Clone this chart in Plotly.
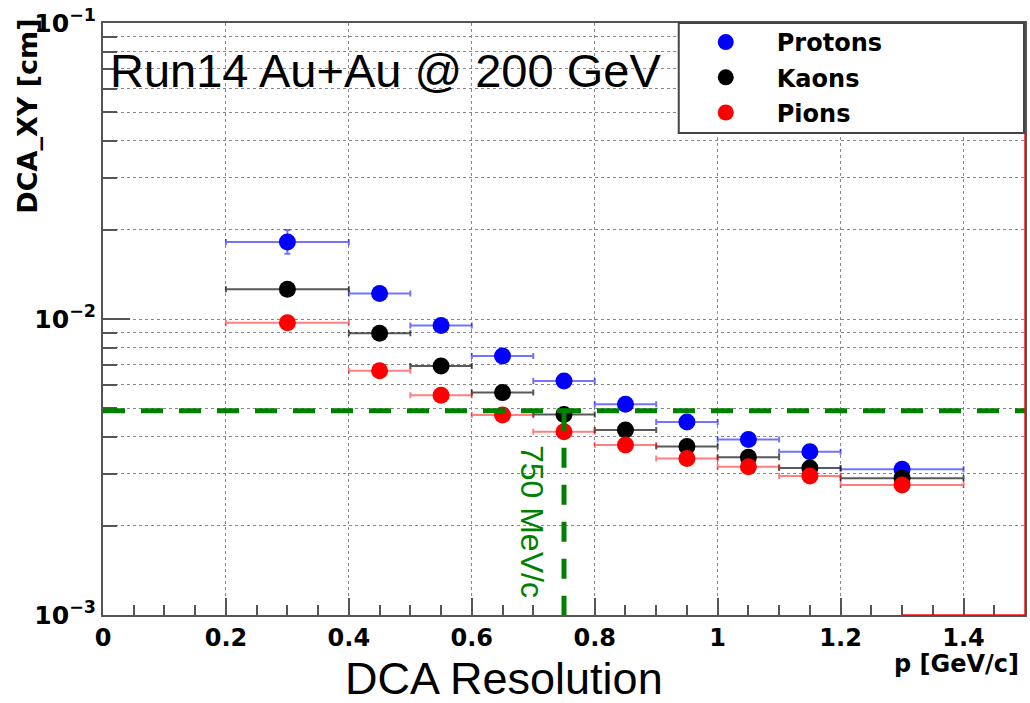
import plotly.graph_objects as go

# ---- data ----
p_centers = [0.3, 0.45, 0.55, 0.65, 0.75, 0.85, 0.95, 1.05, 1.15, 1.3]
p_halfwidth = [0.1, 0.05, 0.05, 0.05, 0.05, 0.05, 0.05, 0.05, 0.05, 0.1]
protons = [0.0182, 0.0122, 0.0095, 0.0075, 0.00617, 0.00515, 0.00449, 0.00392, 0.00356, 0.00311]
protons_err_up = [0.0018, 0, 0, 0, 0, 0, 0, 0, 0, 0]
protons_err_dn = [0.0016, 0, 0, 0, 0, 0, 0, 0, 0, 0]
kaons = [0.0126, 0.00895, 0.00694, 0.00564, 0.00476, 0.00422, 0.00371, 0.00341, 0.00314, 0.00290]
pions = [0.00972, 0.00669, 0.00553, 0.00474, 0.00416, 0.00375, 0.00338, 0.00317, 0.00295, 0.00275]
dca_cut = 0.0049
p_cut = 0.75
y_major = [0.001, 0.01, 0.1]
y_major_text = ["10<sup>−3</sup>", "10<sup>−2</sup>", "10<sup>−1</sup>"]
y_minor = [k * 10.0 ** e for e in (-3, -2) for k in range(2, 10)]
x_ticks = [0, 0.2, 0.4, 0.6, 0.8, 1, 1.2, 1.4]
x_ticktext = ["0", "0.2", "0.4", "0.6", "0.8", "1", "1.2", "1.4"]

W, H = 1030, 703
L, R, T, B = 103, 1027, 23, 615


def px(x):
    return (x - L) / (R - L)


def py(y):
    return (B - y) / (B - T)


BOLD = "DejaVu Sans"
fig = go.Figure()

series = [
    ("Protons", protons, "#0000ff", "rgba(0,0,255,0.55)", protons_err_up, protons_err_dn),
    ("Kaons", kaons, "#000000", "rgba(0,0,0,0.65)", None, None),
    ("Pions", pions, "#ff0000", "rgba(255,0,0,0.5)", None, None),
]
for name, vals, col, ecol, eu, ed in series:
    ey = None
    if eu is not None:
        ey = dict(type="data", symmetric=False, array=eu, arrayminus=ed,
                  color=ecol, thickness=2, width=3)
    fig.add_trace(go.Scatter(
        x=p_centers, y=vals, mode="markers", name=name, legendgroup=name,
        marker=dict(color=col, size=17, line=dict(width=0)),
        error_x=dict(type="data", array=p_halfwidth, color=ecol, thickness=2, width=3),
        error_y=ey,
    ))

fig.update_xaxes(
    range=[0, 1.5], tickvals=x_ticks, ticktext=x_ticktext,
    ticks="inside", ticklen=17, tickwidth=2, tickcolor="#555",
    minor=dict(dtick=0.05, ticks="inside", ticklen=10, tickwidth=2, tickcolor="#555", showgrid=False),
    showgrid=True, gridcolor="#888", gridwidth=1, griddash="dot",
    showline=True, linecolor="#555", linewidth=2, mirror=True,
    tickfont=dict(family=BOLD, size=24, color="black", weight="bold"),
    zeroline=False,
)
fig.update_yaxes(
    type="log", range=[-3, -1], tickvals=y_major, ticktext=y_major_text,
    ticks="inside", ticklen=27, tickwidth=2, tickcolor="#555",
    minor=dict(tickvals=y_minor, ticks="inside", ticklen=14, tickwidth=2, tickcolor="#555",
               showgrid=True, gridcolor="#888", gridwidth=1, griddash="dot"),
    showgrid=True, gridcolor="#888", gridwidth=1, griddash="dot",
    showline=True, linecolor="#555", linewidth=2, mirror=True,
    tickfont=dict(family=BOLD, size=25, color="black", weight="bold"),
    zeroline=False,
)

# cut lines
fig.add_shape(type="line", x0=0, x1=1.5, y0=dca_cut, y1=dca_cut, xref="x", yref="y",
              line=dict(color="#008000", width=5, dash="22px,16px"), layer="above")
fig.add_shape(type="line", x0=p_cut, x1=p_cut, y0=dca_cut, y1=0.001, xref="x", yref="y",
              line=dict(color="#008000", width=5, dash="20px,17px"), layer="above")
fig.add_shape(type="line", x0=p_cut - 0.012, x1=p_cut + 0.012, y0=dca_cut, y1=dca_cut,
              xref="x", yref="y", line=dict(color="#008000", width=4), layer="above")

# red frame artefacts
fig.add_shape(type="line", x0=1, x1=1, y0=0, y1=py(133), xref="paper", yref="paper",
              line=dict(color="rgba(255,0,0,0.7)", width=2), layer="above")
fig.add_shape(type="line", x0=1.3, x1=1.5, y0=0, y1=0, xref="x", yref="paper",
              line=dict(color="rgba(255,0,0,0.7)", width=2), layer="above")

# legend box
fig.add_shape(type="rect", x0=px(680), x1=px(1026), y0=py(133), y1=py(23),
              xref="paper", yref="paper", fillcolor="white",
              line=dict(color="#444", width=2), layer="above")

fig.update_layout(
    width=W, height=H, autosize=False,
    margin=dict(l=L, r=W - R, t=T, b=H - B),
    paper_bgcolor="white", plot_bgcolor="white",
    showlegend=True,
    legend=dict(x=px(676), y=py(20), xanchor="left", yanchor="top",
                bgcolor="rgba(0,0,0,0)", borderwidth=0,
                font=dict(family=BOLD, size=24, color="black", weight="bold"),
                itemwidth=92, tracegroupgap=1, itemclick=False),
    annotations=[
        dict(text="Run14 Au+Au @ 200 GeV", x=px(108), y=py(70), xref="paper", yref="paper",
             xanchor="left", yanchor="middle", showarrow=False,
             font=dict(family="Liberation Sans", size=47, color="black")),
        dict(text="DCA Resolution", x=px(505), y=py(678), xref="paper", yref="paper",
             xanchor="center", yanchor="middle", showarrow=False,
             font=dict(family="Liberation Sans", size=45, color="black")),
        dict(text="750 MeV/c", x=px(533), y=py(521), xref="paper", yref="paper",
             xanchor="center", yanchor="middle", showarrow=False, textangle=90,
             font=dict(family="Liberation Sans", size=32, color="#008000")),
        dict(text="p [GeV/c]", x=px(1023), y=py(664), xref="paper", yref="paper",
             xanchor="right", yanchor="middle", showarrow=False,
             font=dict(family=BOLD, size=24, color="black", weight="bold")),
        dict(text="DCA_XY [cm]", x=px(27), y=py(17), xref="paper", yref="paper",
             xanchor="center", yanchor="top", showarrow=False, textangle=-90,
             font=dict(family=BOLD, size=27, color="black", weight="bold")),
    ],
)

fig.write_html("out.html")
